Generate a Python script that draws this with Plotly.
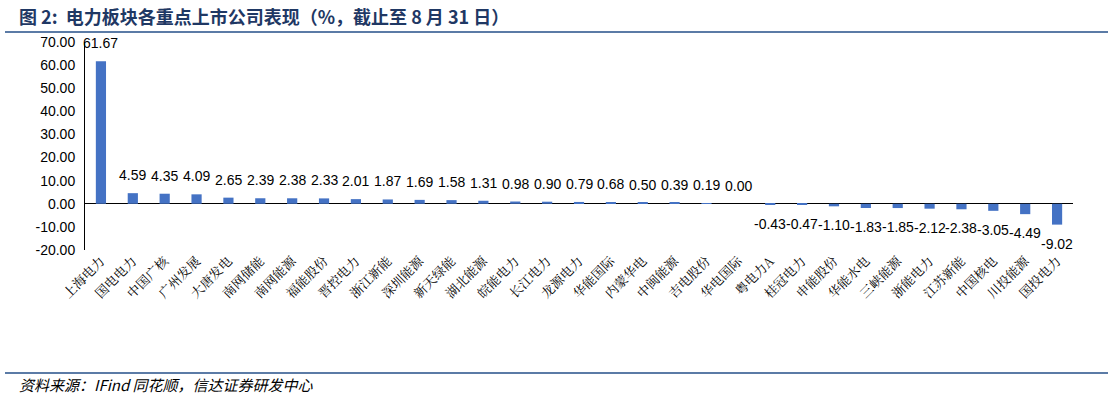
import plotly.graph_objects as go

categories = ["上海电力", "国电电力", "中国广核", "广州发展", "大唐发电", "南网储能", "南网能源",
              "福能股份", "晋控电力", "浙江新能", "深圳能源", "新天绿能", "湖北能源", "皖能电力",
              "长江电力", "龙源电力", "华能国际", "内蒙华电", "中闽能源", "吉电股份", "华电国际",
              "粤电力A", "桂冠电力", "申能股份", "华能水电", "三峡能源", "浙能电力", "江苏新能",
              "中国核电", "川投能源", "国投电力"]
values = [61.67, 4.59, 4.35, 4.09, 2.65, 2.39, 2.38, 2.33, 2.01, 1.87, 1.69, 1.58, 1.31, 0.98,
          0.90, 0.79, 0.68, 0.50, 0.39, 0.19, 0.00, -0.43, -0.47, -1.10, -1.83, -1.85, -2.12,
          -2.38, -3.05, -4.49, -9.02]
y_ticks = [70, 60, 50, 40, 30, 20, 10, 0, -10, -20]

W, H = 1114, 396
L, R, T, B = 85, 1073, 42, 250

def px(p):
    return (p - L) / (R - L)

def py(p):
    return (B - p) / (B - T)

fig = go.Figure()
fig.add_trace(go.Bar(
    x=categories, y=values,
    marker=dict(color="#4472C4", line=dict(width=0)),
    width=0.32,
    hoverinfo="x+y",
))

# data labels above positive / below negative bars
for c, v in zip(categories, values):
    fig.add_annotation(
        x=c, y=v, xref="x", yref="y",
        text=f"{v:.2f}", showarrow=False,
        xanchor="center", yanchor="middle",
        yshift=18 if v >= 0 else -19,
        font=dict(family="Liberation Sans, Arial", size=14, color="#000000"),
    )

fig.update_layout(
    width=W, height=H,
    margin=dict(l=L, r=W - R, t=T, b=H - B),
    paper_bgcolor="white", plot_bgcolor="white",
    showlegend=False,
    xaxis=dict(
        tickangle=-45,
        tickfont=dict(family="Noto Serif CJK SC, Noto Sans CJK SC", size=13, color="#000000"),
        showgrid=False, showline=False, ticks="", zeroline=False,
        range=[-0.5, len(categories) - 0.5],
    ),
    yaxis=dict(
        range=[-20, 70],
        tickvals=y_ticks,
        ticktext=[f"{v:.2f}" for v in y_ticks],
        tickfont=dict(family="Liberation Sans, Arial", size=14, color="#000000"),
        showgrid=False, zeroline=True, zerolinecolor="#000000", zerolinewidth=1,
        showline=True, linecolor="#000000", linewidth=1, ticks="",
        ticklabelstandoff=6,
    ),
    font=dict(family="Noto Sans CJK SC"),
)

# title
fig.add_annotation(
    xref="paper", yref="paper", x=px(17), y=py(16), xanchor="left", yanchor="middle",
    text="<b>图 2:  电力板块各重点上市公司表现（%，截止至 8 月 31 日）</b>",
    showarrow=False,
    font=dict(family="Noto Sans CJK SC", size=18, color="#1F3864"),
)
# title underline
fig.add_shape(type="line", xref="paper", yref="paper",
              x0=px(5), x1=px(1108), y0=py(32), y1=py(32),
              line=dict(color="#5B7BA6", width=2))
# footer line
fig.add_shape(type="line", xref="paper", yref="paper",
              x0=px(5), x1=px(1108), y0=py(373), y1=py(373),
              line=dict(color="#5B7BA6", width=2))
# source
fig.add_annotation(
    xref="paper", yref="paper", x=px(17), y=py(384), xanchor="left", yanchor="middle",
    text="<i>资料来源：IFind 同花顺，信达证券研发中心</i>",
    showarrow=False,
    font=dict(family="Noto Sans CJK SC", size=15, color="#000000"),
)

fig.write_html("out.html")
